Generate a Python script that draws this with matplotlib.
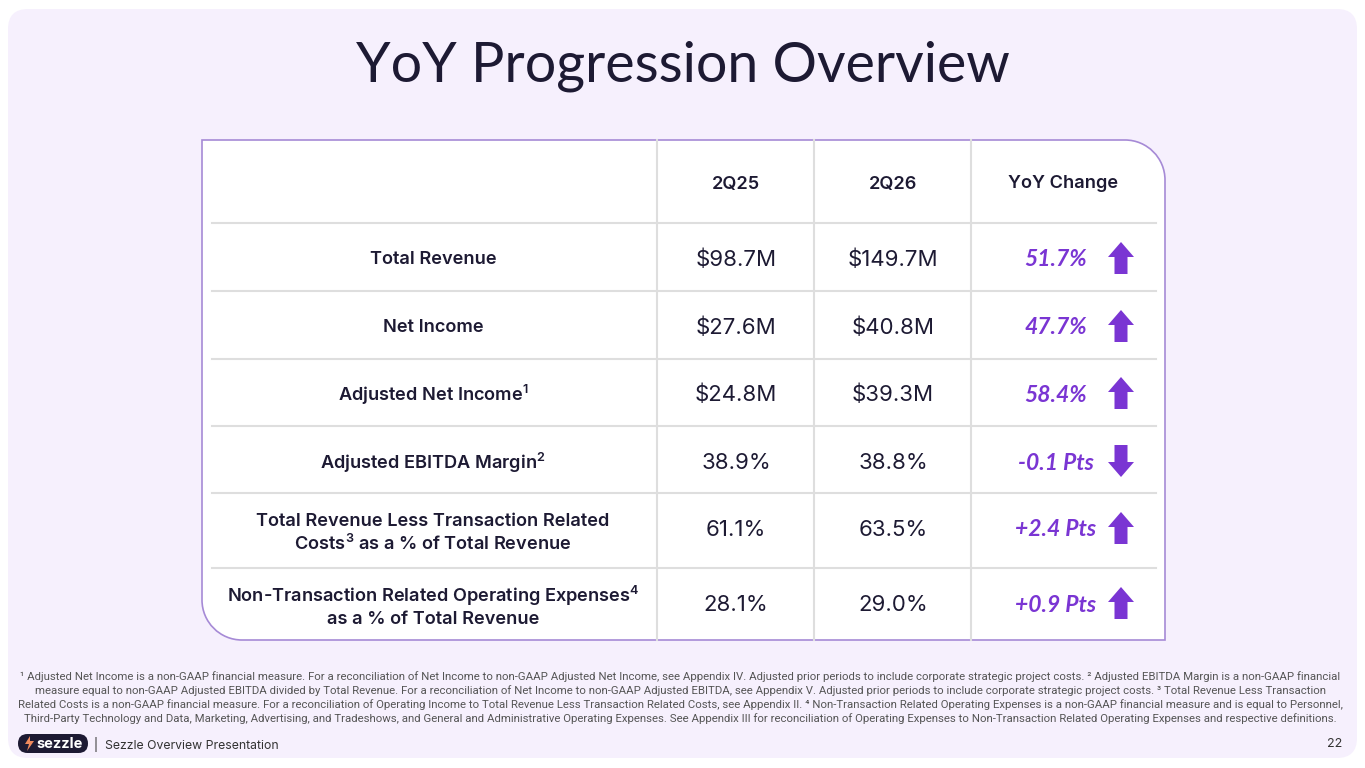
import matplotlib
matplotlib.use("Agg")
import matplotlib.pyplot as plt
from matplotlib.patches import FancyBboxPatch, Polygon, PathPatch
from matplotlib.path import Path

# ---------------- data ----------------
title = "YoY Progression Overview"
col_headers = ["2Q25", "2Q26", "YoY Change"]
row_labels = [
    ["Total Revenue"],
    ["Net Income"],
    ["Adjusted Net Income$\\mathregular{^{1}}$"],
    ["Adjusted EBITDA Margin$\\mathregular{^{2}}$"],
    ["Total Revenue Less Transaction Related", "Costs$\\mathregular{^{3}}$ as a % of Total Revenue"],
    ["Non-Transaction Related Operating Expenses$\\mathregular{^{4}}$", "as a % of Total Revenue"],
]
values_2q25 = ["$98.7M", "$27.6M", "$24.8M", "38.9%", "61.1%", "28.1%"]
values_2q26 = ["$149.7M", "$40.8M", "$39.3M", "38.8%", "63.5%", "29.0%"]
yoy_change = ["51.7%", "47.7%", "58.4%", "-0.1 Pts", "+2.4 Pts", "+0.9 Pts"]
yoy_direction = [1, 1, 1, -1, 1, 1]
footnotes = [
    "\u00b9 Adjusted Net Income is a non-GAAP financial measure. For a reconciliation of Net Income to non-GAAP Adjusted Net Income, see Appendix IV. Adjusted prior periods to include corporate strategic project costs. \u00b2 Adjusted EBITDA Margin is a non-GAAP financial",
    "measure equal to non-GAAP Adjusted EBITDA divided by Total Revenue. For a reconciliation of Net Income to non-GAAP Adjusted EBITDA, see Appendix V. Adjusted prior periods to include corporate strategic project costs. \u00b3 Total Revenue Less Transaction",
    "Related Costs is a non-GAAP financial measure. For a reconciliation of Operating Income to Total Revenue Less Transaction Related Costs, see Appendix II. \u2074 Non-Transaction Related Operating Expenses is a non-GAAP financial measure and is equal to Personnel,",
    "Third-Party Technology and Data, Marketing, Advertising, and Tradeshows, and General and Administrative Operating Expenses. See Appendix III for reconciliation of Operating Expenses to Non-Transaction Related Operating Expenses and respective definitions.",
]
footer_text = "|  Sezzle Overview Presentation"
page_number = "22"

# ---------------- style ----------------
plt.rcParams["mathtext.fontset"] = "custom"
plt.rcParams["mathtext.rm"] = "Inter"
DARK = "#1d1a33"
PURPLE = "#7a35d3"
LAV = "#f6f0fd"
GRID = "#dedede"
BORDER = "#a68ad6"

W, H = 1365, 768
fig = plt.figure(figsize=(W / 100, H / 100), dpi=100)
ax = fig.add_axes([0, 0, 1, 1])
ax.set_xlim(0, W)
ax.set_ylim(H, 0)
ax.axis("off")
fig.patch.set_facecolor("white")

# page background
ax.add_patch(FancyBboxPatch((8, 9), W - 16, H - 19, boxstyle="round,pad=0,rounding_size=20",
                            fc=LAV, ec="none", zorder=0))

# title
ax.text(W / 2, 66, title, ha="center", va="center", fontsize=40, family="Lato",
        fontweight="normal", color=DARK)

# table box with two rounded corners (top-right, bottom-left)
x0, x1, y0, y1, r = 202, 1165, 140, 640, 40
k = 0.5523
verts = [
    (x0, y0), (x1 - r, y0),
    (x1 - r + r * k, y0), (x1, y0 + r - r * k), (x1, y0 + r),
    (x1, y1), (x0 + r, y1),
    (x0 + r - r * k, y1), (x0, y1 - r + r * k), (x0, y1 - r),
    (x0, y0),
]
codes = [Path.MOVETO, Path.LINETO, Path.CURVE4, Path.CURVE4, Path.CURVE4,
         Path.LINETO, Path.LINETO, Path.CURVE4, Path.CURVE4, Path.CURVE4, Path.CLOSEPOLY]
ax.add_patch(PathPatch(Path(verts, codes), fc="white", ec=BORDER, lw=1.2, zorder=1))

col_div = [657, 814, 971]
row_div = [223, 291, 359, 426, 493, 568]
for x in col_div:
    ax.plot([x, x], [y0, y1], color=GRID, lw=1.5, zorder=2)
for y in row_div:
    ax.plot([212, 1156], [y, y], color=GRID, lw=1.5, zorder=2)

LBL = dict(fontsize=13.1, family="Inter", fontweight="semibold", color=DARK, zorder=3)

# header
hdr_y = 184
col_centers = [736, 893, 1063]
for cx, h in zip(col_centers, col_headers):
    ax.text(cx, hdr_y, h, ha="center", va="center", **LBL)

row_centers = [260, 328, 395, 463, 530, 605]
label_cx = 433
for yc, lab, v1, v2, ch, d in zip(row_centers, row_labels, values_2q25, values_2q26,
                                  yoy_change, yoy_direction):
    if len(lab) == 1:
        ax.text(label_cx, yc, lab[0], ha="center", va="center", **LBL)
    else:
        ax.text(label_cx, yc - 9, lab[0], ha="center", va="center", **LBL)
        ax.text(label_cx, yc + 14, lab[1], ha="center", va="center", **LBL)
    ax.text(736, yc, v1, ha="center", va="center", fontsize=16, family="Inter",
            fontweight="normal", color=DARK, parse_math=False, zorder=3)
    ax.text(893, yc, v2, ha="center", va="center", fontsize=16, family="Inter",
            fontweight="normal", color=DARK, parse_math=False, zorder=3)
    ax.text(1056, yc, ch, ha="center", va="center", fontsize=16.5, family="Lato",
            fontweight="bold", style="italic", color=PURPLE, zorder=3)
    # arrow glyph
    ax_c = 1121
    hw, sw, hh, tot = 13, 6.5, 15, 32
    top = yc - 2 - tot / 2
    if d > 0:
        pts = [(ax_c, top), (ax_c + hw, top + hh), (ax_c + sw, top + hh), (ax_c + sw, top + tot),
               (ax_c - sw, top + tot), (ax_c - sw, top + hh), (ax_c - hw, top + hh)]
    else:
        bot = top + tot
        pts = [(ax_c, bot), (ax_c + hw, bot - hh), (ax_c + sw, bot - hh), (ax_c + sw, top),
               (ax_c - sw, top), (ax_c - sw, bot - hh), (ax_c - hw, bot - hh)]
    ax.add_patch(Polygon(pts, closed=True, fc=PURPLE, ec="none", zorder=3))

# footnotes
for i, line in enumerate(footnotes):
    ax.text(W / 2 - 2, 677 + i * 14, line, ha="center", va="center", fontsize=8.2,
            family="Roboto", color="#555555", zorder=3)

# footer
ax.add_patch(FancyBboxPatch((18, 734), 70, 19, boxstyle="round,pad=0,rounding_size=9.5",
                            fc=DARK, ec="none", zorder=3))
ax.add_patch(Polygon([(30, 736), (25, 744), (29, 744), (27, 751), (34, 741), (30, 741)],
                     closed=True, fc="#f08a5d", ec="none", zorder=4))
ax.text(36, 743.5, "sezzle", ha="left", va="center", fontsize=10.5, family="Inter",
        fontweight="bold", color="white", zorder=4)
ax.text(94, 744, footer_text, ha="left", va="center", fontsize=8.8, family="Inter",
        color="#333333", zorder=3)
ax.text(1342, 744, page_number, ha="right", va="center", fontsize=9, family="Inter",
        color="#333333", zorder=3)

fig.savefig("out.png", dpi=100, facecolor="white")
